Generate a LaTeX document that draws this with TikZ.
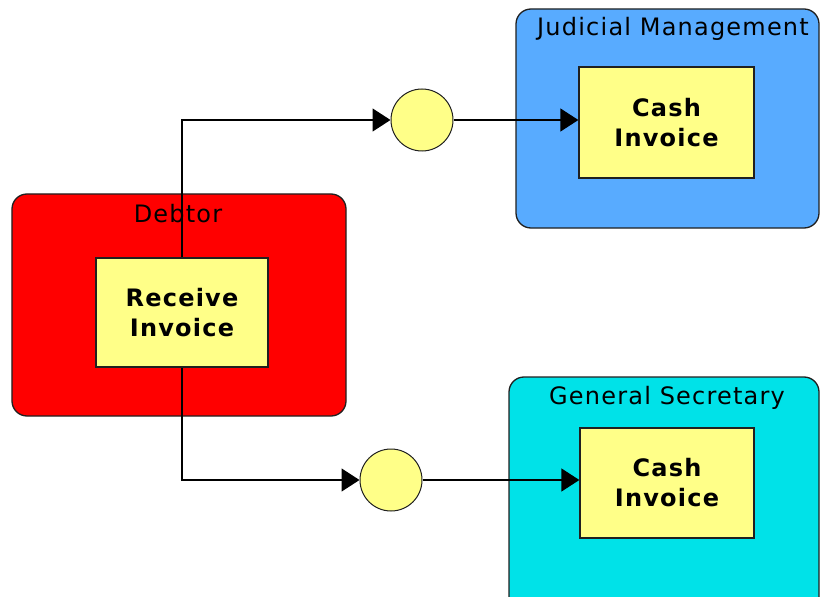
\documentclass[tikz,border=0pt]{standalone}
\usepackage{fontspec}
\setmainfont{DejaVu Sans}[LetterSpace=5]
\usetikzlibrary{arrows.meta}
\definecolor{poolred}{HTML}{FF0000}
\definecolor{poolblue}{HTML}{58ABFF}
\definecolor{poolcyan}{HTML}{00E2E8}
\definecolor{taskyellow}{HTML}{FFFF88}
\definecolor{edgegray}{HTML}{202020}
\pgfdeclarelayer{pools}
\pgfdeclarelayer{flows}
\pgfsetlayers{pools,flows,main}
\tikzset{
  pool/.style={draw=edgegray, line width=1.3bp, rounded corners=15bp, inner sep=0pt},
  poollabel/.style={anchor=base, inner sep=0pt, font=\fontsize{24bp}{28bp}\selectfont},
  task/.style={draw=edgegray, line width=1.3bp, fill=taskyellow, inner sep=0pt, align=center,
    font=\fontsize{24bp}{30bp}\selectfont\bfseries},
  event/.style={circle, draw=edgegray, line width=1bp, fill=taskyellow, inner sep=0pt, minimum size=62bp},
  flow/.style={line width=1.3bp, -{Triangle[length=18bp, width=23bp]}}
}
\begin{document}
\begin{tikzpicture}[x=1bp, y=-1bp]
\useasboundingbox (0,0) rectangle (820,597);
\clip (0,0) rectangle (820,597);
% pools
\begin{pgfonlayer}{pools}
\node[pool, fill=poolred, minimum width=334bp, minimum height=222bp] (debtor) at (179,305) {};
\node[pool, fill=poolblue, minimum width=303bp, minimum height=219bp] (judicial) at (667.5,118.5) {};
\node[pool, fill=poolcyan, minimum width=310bp, minimum height=243bp] (general) at (664,498.5) {};
\end{pgfonlayer}
\node[poollabel] (debtorlbl) at (178,223) {Debtor};
\node[poollabel] (judiciallbl) at (673,36) {Judicial Management};
\node[poollabel] (generallbl) at (667,404) {General Secretary};
% events
\node[event] (c1) at (422,120) {};
\node[event] (c2) at (391,480) {};
% tasks
\node[task, minimum width=172bp, minimum height=109bp] (ri) at (182,312.5) {Receive\\Invoice};
\node[task, minimum width=175bp, minimum height=111bp] (ci1) at (666.5,122.5) {Cash\\Invoice};
\node[task, minimum width=174bp, minimum height=110bp] (ci2) at (667,483) {Cash\\Invoice};
% flows (behind tasks)
\begin{pgfonlayer}{flows}
\draw[flow] (ri.center) |- (c1.west);
\draw[flow] (ri.center) |- (c2.west);
\draw[flow] (c1.east) -- (c1.east -| ci1.west);
\draw[flow] (c2.east) -- (c2.east -| ci2.west);
\end{pgfonlayer}
\end{tikzpicture}
\end{document}
